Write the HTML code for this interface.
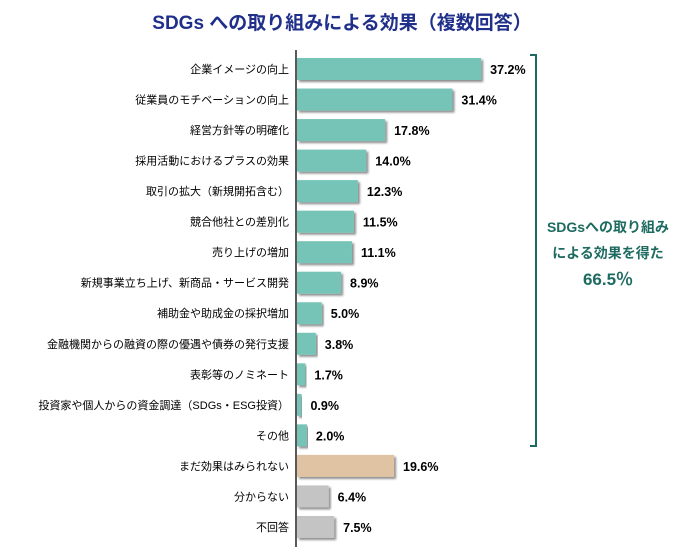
<!DOCTYPE html>
<html><head><meta charset="utf-8"><style>
body{margin:0;background:#fff;width:691px;height:547px;overflow:hidden}
text{font-family:"Liberation Sans","Noto Sans CJK JP",sans-serif}
</style></head><body>
<svg width="691" height="547" xmlns="http://www.w3.org/2000/svg">
<defs><filter id="sh" x="-5%" y="-20%" width="115%" height="150%"><feDropShadow dx="2" dy="2" stdDeviation="1" flood-color="#000" flood-opacity="0.45"/></filter></defs>
<text x="342" y="29" text-anchor="middle" font-size="19" font-weight="bold" fill="#1f2f8a">SDGs への取り組みによる効果（複数回答）</text>
<line x1="296" y1="50" x2="296" y2="547" stroke="#000" stroke-width="1.3"/>
<g font-size="11" fill="#000" text-anchor="end" id="labels"></g>
<g id="bars"></g>
<path d="M530 55 H536 V446 H530" fill="none" stroke="#1d6b60" stroke-width="2"/>
<g font-weight="bold" fill="#1d6b60" text-anchor="middle">
<text x="608" y="232" font-size="14">SDGsへの取り組み</text>
<text x="608" y="258" font-size="14">による効果を得た</text>
<text x="608" y="285" font-size="17">66.5％</text>
</g>
<script>
var d=[["企業イメージの向上",37.2],["従業員のモチベーションの向上",31.4],["経営方針等の明確化",17.8],["採用活動におけるプラスの効果",14.0],["取引の拡大（新規開拓含む）",12.3],["競合他社との差別化",11.5],["売り上げの増加",11.1],["新規事業立ち上げ、新商品・サービス開発",8.9],["補助金や助成金の採択増加",5.0],["金融機関からの融資の際の優遇や債券の発行支援",3.8],["表彰等のノミネート",1.7],["投資家や個人からの資金調達（SDGs・ESG投資）",0.9],["その他",2.0],["まだ効果はみられない",19.6],["分からない",6.4],["不回答",7.5]];
var ns="http://www.w3.org/2000/svg",L=document.getElementById("labels"),B=document.getElementById("bars");
d.forEach(function(r,i){var y=58+i*30.53,w=r[1]*4.95;
var c=i<13?"#76c4b8":(i==13?"#dfc3a3":"#c4c4c4");
var t=document.createElementNS(ns,"text");t.setAttribute("x",289);t.setAttribute("y",y+15);t.textContent=r[0];L.appendChild(t);
var re=document.createElementNS(ns,"rect");re.setAttribute("x",297);re.setAttribute("y",y);re.setAttribute("width",w);re.setAttribute("height",22);re.setAttribute("fill",c);re.setAttribute("filter","url(#sh)");B.appendChild(re);
var v=document.createElementNS(ns,"text");v.setAttribute("x",297+w+9);v.setAttribute("y",y+16);v.setAttribute("font-size","12.5");v.setAttribute("font-weight","bold");v.textContent=r[1].toFixed(1)+"%";B.appendChild(v);});
</script>
</svg>
</body></html>
